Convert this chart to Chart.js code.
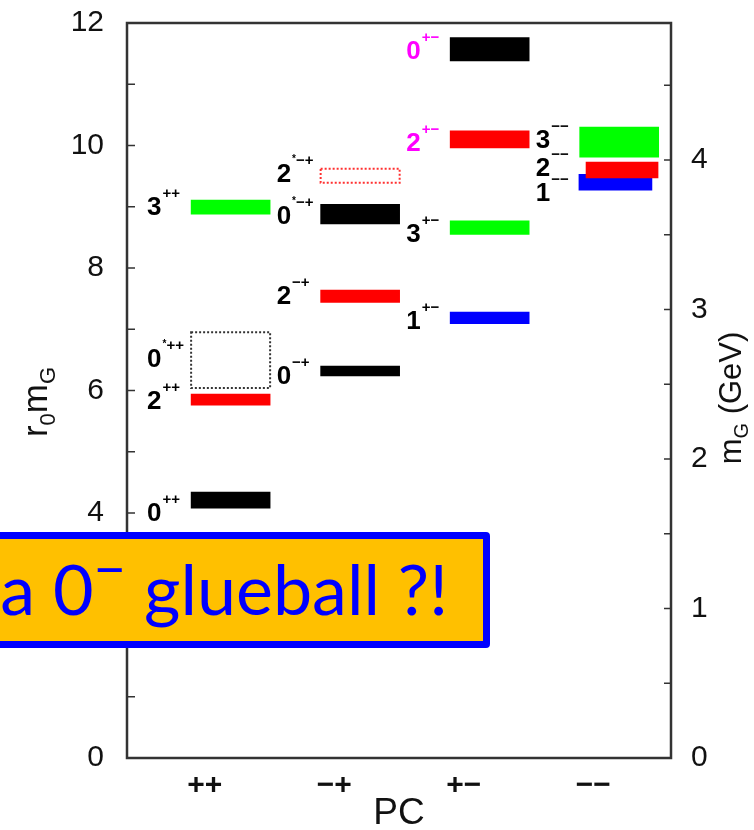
<!DOCTYPE html>
<html>
<head>
<meta charset="utf-8">
<script src="https://cdn.jsdelivr.net/npm/chart.js@4.4.0/dist/chart.umd.min.js"></script>
<style>
  body { margin: 0; background: #fff; }
  #wrap { position: relative; width: 754px; height: 830px; overflow: hidden; }
  #callout {
    position: absolute; left: -60px; top: 532px; width: 550px; height: 116px;
    box-sizing: border-box; border: 7px solid #0000ff; border-radius: 4px;
    background: #ffc000; color: #0000ff; font-family: Lato, sans-serif; font-size: 70px;
  }
  #callout span.txt { position: absolute; right: 35px; top: 14px; line-height: 70px; white-space: nowrap; }
  #callout span.sup { position: relative; top: -26px; font-size: 56px; }
</style>
</head>
<body>
<div id="wrap">
  <canvas id="glueChart" width="754" height="830"></canvas>
  <div id="callout"><span class="txt">a 0<span class="sup">−</span> glueball ?!</span></div>
</div>
<script>
// glueball states, r0*m_G band per state
const pcLabels = ["++", "−+", "+−", "−−"];
const states = ["0++", "2++", "0*++", "3++", "0-+", "2-+", "0*-+", "2*-+",
                "1+-", "3+-", "2+-", "0+-", "3--", "2--", "1--"];
const massLow  = [4.08, 5.76, 6.04, 8.88, 6.24, 7.44, 8.72, 9.39, 7.09, 8.55, 9.96, 11.38, 9.81, 9.47, 9.27];
const massHigh = [4.34, 5.94, 6.95, 9.11, 6.40, 7.64, 9.04, 9.62, 7.28, 8.77, 10.24, 11.76, 10.30, 9.73, 9.53];
const labelLevel = [4.02, 5.85, 6.53, 9.01, 6.25, 7.56, 8.87, 9.55, 7.15, 8.57, 10.06, 11.56, 10.1, 9.65, 9.24];
const uncertain = ["0*++", "2*-+"]; // drawn as dotted boxes
const leftTicks = [0, 2, 4, 6, 8, 10, 12];
const rightTicks = [0, 1, 2, 3, 4];
const r0 = 2.441; // GeV^-1, converts r0*m_G to m_G

const pcKeys = ["++", "-+", "+-", "--"];
const spinColor = { "0": "#000000", "1": "#0000ff", "2": "#ff0000", "3": "#00ff00" };
const labelColor = { "2+-": "#ff00ff", "0+-": "#ff00ff" };
const barTweak = { "2--": { dx: 0.022, w: 72 }, "1--": { dx: -0.029, w: 73 } };
const BAR_W = 79;
const FONT = "'Liberation Sans', Arial, sans-serif";

const datasets = states.map((s, i) => {
  const col = pcKeys.indexOf(s.slice(-2));
  const t = barTweak[s] || {};
  const dotted = uncertain.includes(s);
  return {
    label: s,
    data: [{ x: col + 1.2 + (t.dx || 0), y: [massLow[i], massHigh[i]] }],
    backgroundColor: dotted ? "rgba(0,0,0,0)" : spinColor[s[0]],
    borderWidth: 0,
    barThickness: t.w || BAR_W,
    grouped: false,
    dotted: dotted
  };
});

const framePlugin = {
  id: "frame",
  afterDatasetsDraw(chart) {
    const ctx = chart.ctx;
    const a = chart.chartArea;
    const y = chart.scales.y, y2 = chart.scales.y2, x = chart.scales.x;
    ctx.save();

    // dotted boxes for the uncertain states
    chart.data.datasets.forEach((ds, i) => {
      if (!ds.dotted) return;
      const el = chart.getDatasetMeta(i).data[0];
      const top = Math.min(el.y, el.base), h = Math.abs(el.base - el.y);
      ctx.setLineDash([2, 2]);
      ctx.lineWidth = 2;
      ctx.strokeStyle = ds.label[0] === "2" ? "#ff3030" : "#333";
      ctx.strokeRect(el.x - el.width / 2, top, el.width, h);
    });
    ctx.setLineDash([]);

    // state labels
    states.forEach((s, i) => {
      const col = pcKeys.indexOf(s.slice(-2));
      let px = x.getPixelForValue(col + 1.2) - BAR_W / 2 - 44;
      const py = y.getPixelForValue(labelLevel[i]);
      ctx.fillStyle = labelColor[s] || "#000";
      ctx.textAlign = "left";
      ctx.textBaseline = "alphabetic";
      ctx.font = "bold 26px " + FONT;
      ctx.fillText(s[0], px, py + 9);
      px += ctx.measureText(s[0]).width + 1;
      if (s.includes("*")) {
        ctx.font = "bold 10px " + FONT;
        ctx.fillText("*", px, py - 11);
        px += 4;
      }
      ctx.font = "bold 15px " + FONT;
      ctx.fillText(s.slice(-2).replace(/-/g, "−"), px, py - 8);
    });

    // frame and inward ticks
    ctx.strokeStyle = "#333";
    ctx.lineWidth = 2.5;
    ctx.strokeRect(a.left, a.top, a.right - a.left, a.bottom - a.top);
    ctx.lineWidth = 1.5;
    ctx.beginPath();
    for (let v = 1; v < 12; v++) {
      const p = y.getPixelForValue(v);
      ctx.moveTo(a.left, p); ctx.lineTo(a.left + 8, p);
    }
    for (let v = 0.5; v < y2.max; v += 0.5) {
      const p = y2.getPixelForValue(v);
      ctx.moveTo(a.right, p); ctx.lineTo(a.right - 7, p);
    }
    ctx.stroke();

    // axis titles with subscripts
    const drawTitle = (cx, cy, parts) => {
      ctx.save();
      ctx.translate(cx, cy);
      ctx.rotate(-Math.PI / 2);
      ctx.fillStyle = "#111";
      ctx.textBaseline = "alphabetic";
      let w = 0;
      parts.forEach(p => { ctx.font = p.size + "px " + FONT; w += ctx.measureText(p.t).width; });
      let xx = -w / 2;
      parts.forEach(p => {
        ctx.font = p.size + "px " + FONT;
        ctx.fillText(p.t, xx, p.dy || 0);
        xx += ctx.measureText(p.t).width;
      });
      ctx.restore();
    };
    drawTitle(47, 402, [{ t: "r", size: 35 }, { t: "0", size: 22, dy: 8 }, { t: "m", size: 35 }, { t: "G", size: 22, dy: 8 }]);
    drawTitle(741, 398, [{ t: "m", size: 31 }, { t: "G", size: 20, dy: 7 }, { t: " (GeV)", size: 31 }]);
    ctx.restore();
  }
};

const noPad = s => { s.paddingTop = 0; s.paddingBottom = 0; };

new Chart(document.getElementById("glueChart"), {
  type: "bar",
  data: { datasets: datasets },
  options: {
    responsive: false,
    animation: false,
    layout: { padding: { top: 23 } },
    plugins: { legend: { display: false }, tooltip: { enabled: false } },
    scales: {
      x: {
        type: "linear", min: 0.4, max: 4.6, offset: false,
        grid: { display: false, drawTicks: false }, border: { display: false },
        afterBuildTicks: s => { s.ticks = [1, 2, 3, 4].map(v => ({ value: v })); },
        afterFit: s => { s.height = 72; s.paddingLeft = 0; s.paddingRight = 0; },
        ticks: { padding: 10, color: "#111", font: { family: FONT, size: 30, weight: "bold" },
                 callback: v => pcLabels[v - 1] },
        title: { display: true, text: "PC", color: "#111", padding: 0,
                 font: { family: FONT, size: 37, lineHeight: 0.9 } }
      },
      y: {
        position: "left", min: 0, max: 12,
        grid: { display: false, drawTicks: false }, border: { display: false },
        afterBuildTicks: s => { s.ticks = leftTicks.map(v => ({ value: v })); },
        afterFit: s => { s.width = 127; noPad(s); },
        ticks: { padding: 23, color: "#111", font: { family: FONT, size: 30 } }
      },
      y2: {
        position: "right", min: 0, max: 12 / r0,
        grid: { display: false, drawTicks: false }, border: { display: false },
        afterBuildTicks: s => { s.ticks = rightTicks.map(v => ({ value: v })); },
        afterFit: s => { s.width = 83; noPad(s); },
        ticks: { padding: 20, color: "#111", font: { family: FONT, size: 30 } }
      }
    }
  },
  plugins: [framePlugin]
});
</script>
</body>
</html>
